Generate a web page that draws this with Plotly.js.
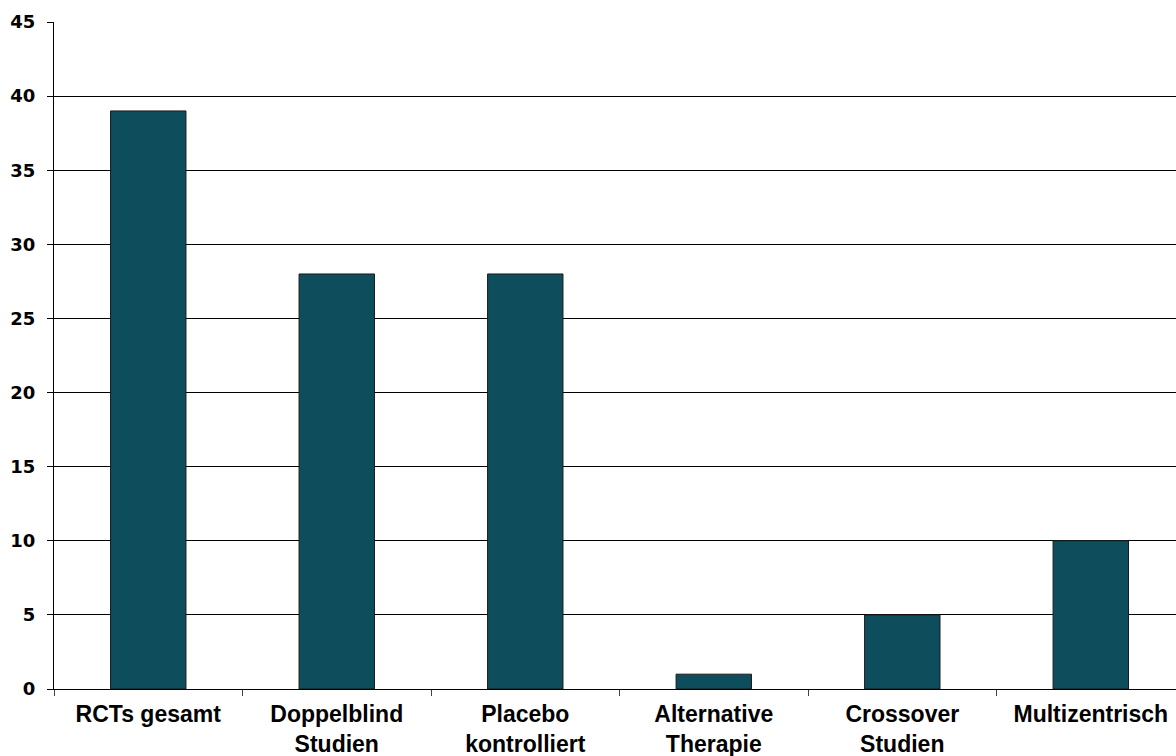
<!DOCTYPE html>
<html>
<head>
<meta charset="utf-8">
<script src="https://cdn.plot.ly/plotly-3.0.1.min.js"></script>
<style>html,body{margin:0;padding:0;background:#fff;} #chart{width:1176px;height:756px;}</style>
</head>
<body>
<div id="chart"></div>
<script>
const categories = ["RCTs gesamt", "Doppelblind<br>Studien", "Placebo<br>kontrolliert", "Alternative<br>Therapie", "Crossover<br>Studien", "Multizentrisch"];
const values = [39, 28, 28, 1, 5, 10];
const yTicks = [0, 5, 10, 15, 20, 25, 30, 35, 40, 45];

const trace = {
  type: 'bar',
  x: categories,
  y: values,
  marker: {color: '#0d4d5c', line: {color: '#1a1a1a', width: 1}},
  hoverinfo: 'x+y'
};

const layout = {
  width: 1176, height: 756,
  margin: {l: 54, r: 0, t: 22, b: 67},
  paper_bgcolor: '#ffffff', plot_bgcolor: '#ffffff',
  showlegend: false,
  bargap: 0.6,
  xaxis: {
    type: 'category',
    range: [-0.5, 5.452],
    tickson: 'boundaries',
    ticks: 'outside', ticklen: 6, tickcolor: '#444', tickwidth: 1,
    showline: true, linecolor: '#000', linewidth: 1,
    showgrid: false,
    tickangle: 0,
    ticklabelstandoff: 4,
    tickfont: {family: 'Liberation Sans, Arial, sans-serif', size: 23, color: '#000', weight: 'bold'}
  },
  yaxis: {
    range: [0, 45],
    tickvals: yTicks,
    ticktext: yTicks.map(String),
    ticks: 'outside', ticklen: 6, tickcolor: '#000', tickwidth: 1,
    showline: true, linecolor: '#000', linewidth: 1,
    showgrid: true, gridcolor: '#000', gridwidth: 1,
    zeroline: false,
    ticklabelstandoff: 8,
    tickfont: {family: 'DejaVu Sans, Verdana, sans-serif', size: 18, color: '#000', weight: 'bold'}
  }
};

Plotly.newPlot('chart', [trace], layout, {displayModeBar: false, staticPlot: true});
</script>
</body>
</html>
